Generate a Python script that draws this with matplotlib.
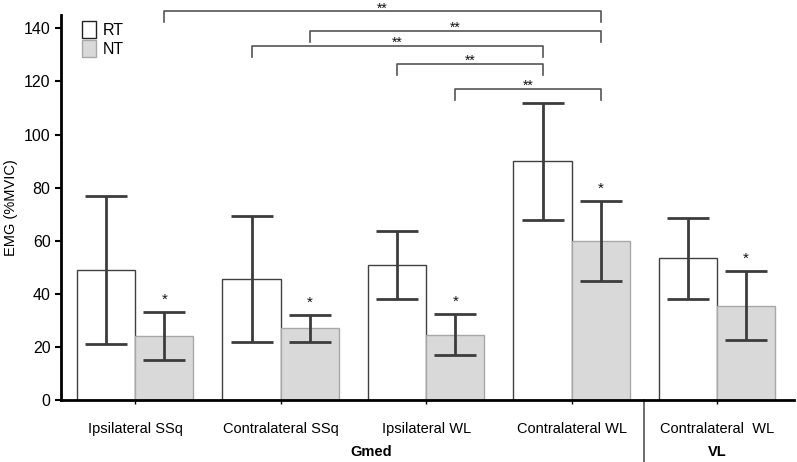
import numpy as np
import matplotlib.pyplot as plt
import matplotlib.transforms as mtransforms
from matplotlib.patches import Patch

plt.rcParams['font.family'] = ['Liberation Sans', 'DejaVu Sans']

# data
categories = ['Ipsilateral SSq', 'Contralateral SSq', 'Ipsilateral WL', 'Contralateral WL', 'Contralateral  WL']
rt_mean = [49, 45.5, 51, 90, 53.5]
rt_low = [21, 22, 38, 68, 38]
rt_high = [77, 69.5, 63.5, 112, 68.5]
nt_mean = [24, 27, 24.5, 60, 35.5]
nt_low = [15, 22, 17, 45, 22.5]
nt_high = [33, 32, 32.5, 75, 48.5]
muscles = ['Gmed', 'VL']
# brackets: (left x, right x, height) in data units
brackets = [(0.2, 3.2, 146.4), (1.2, 3.2, 139), (0.8, 2.8, 133.3), (1.8, 2.8, 126.5), (2.2, 3.2, 117.2)]

x = np.arange(len(categories))
w = 0.4
ecol = '#3c3c3c'

fig = plt.figure(figsize=(7.97, 4.62), dpi=100)
ax = fig.add_axes([0.0765, 0.134, 0.92, 0.8335])

rt_err = [np.array(rt_mean) - np.array(rt_low), np.array(rt_high) - np.array(rt_mean)]
nt_err = [np.array(nt_mean) - np.array(nt_low), np.array(nt_high) - np.array(nt_mean)]

ax.bar(x - w/2, rt_mean, w, color='white', edgecolor='#404040', linewidth=1.0,
       yerr=rt_err, capsize=15, error_kw=dict(ecolor=ecol, elinewidth=2, capthick=2))
ax.bar(x + w/2, nt_mean, w, color='#d9d9d9', edgecolor='#a8a8a8', linewidth=1.0,
       yerr=nt_err, capsize=15, error_kw=dict(ecolor=ecol, elinewidth=2, capthick=2))

# single stars above NT bars
for xi, hi in zip(x, nt_high):
    ax.text(xi + w/2, hi + 3.2, '*', ha='center', va='baseline', fontsize=11, color='#111111')

# significance brackets
for x0, x1, h in brackets:
    ax.plot([x0, x0, x1, x1], [h - 4.2, h, h, h - 4.2], color='#555555', lw=1.2, clip_on=False)
    ax.text((x0 + x1) / 2, h - 0.4, '**', ha='center', va='baseline', fontsize=10, color='#111111')

ax.set_xlim(-0.51, 4.53)
ax.set_ylim(0, 145)
ax.set_yticks(range(0, 141, 20))
ax.set_xticks(x)
ax.set_xticklabels(categories, fontsize=10.5)
ax.tick_params(axis='x', length=3, width=1, pad=13)
ax.tick_params(axis='y', length=4, width=1.5, labelsize=11.5)
ax.set_ylabel('EMG (%MVIC)', fontsize=10.5, labelpad=4)

for s in ['top', 'right']:
    ax.spines[s].set_visible(False)
for s in ['left', 'bottom']:
    ax.spines[s].set_linewidth(2)

# muscle group labels and separator
trans = mtransforms.blended_transform_factory(ax.transData, ax.transAxes)
ax.text(1.62, -0.135, muscles[0], transform=trans, ha='center', va='center',
        fontsize=10.5, fontweight='bold')
ax.text(4.0, -0.135, muscles[1], transform=trans, ha='center', va='center',
        fontsize=10.5, fontweight='bold')
ax.plot([3.5, 3.5], [0, -0.17], transform=trans, color='#555555', lw=1.2, clip_on=False)

handles = [Patch(facecolor='white', edgecolor='#222222', label='RT'),
           Patch(facecolor='#d9d9d9', edgecolor='#a8a8a8', label='NT')]
ax.legend(handles=handles, loc='upper left', bbox_to_anchor=(0.02, 1.0), frameon=False,
          fontsize=11.5, handlelength=0.9, handleheight=1.2, handletextpad=0.4,
          labelspacing=0.15, borderaxespad=0)

fig.savefig('out.png', dpi=100)
